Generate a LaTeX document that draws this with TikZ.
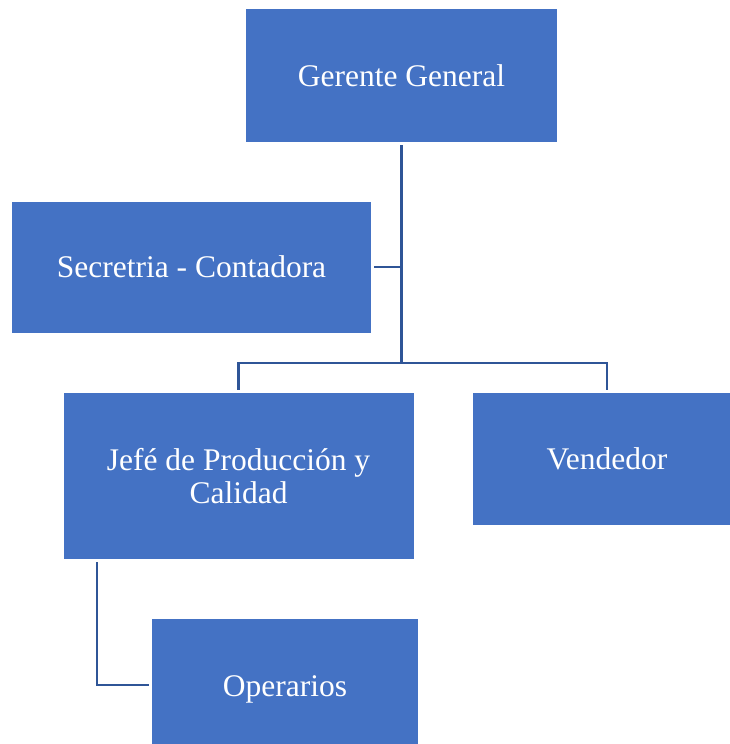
\documentclass[tikz,border=0pt]{standalone}
\usepackage{fontspec}
\setmainfont{Liberation Serif}
\definecolor{boxblue}{HTML}{4472C4}
\definecolor{lineblue}{HTML}{2F5597}
\begin{document}
\begin{tikzpicture}[x=1pt,y=-1pt,
  orgbox/.style={rectangle, fill=boxblue, draw=none, text=white, align=center,
    font=\fontsize{31.5}{33}\selectfont, inner sep=0pt},
  link/.style={draw=lineblue, line width=2.8pt, shorten <=3pt, shorten >=3pt}]
\useasboundingbox (0,0) rectangle (729,744);
\node[orgbox, minimum width=311pt, minimum height=133pt] (gg) at (401.5,75.5) {Gerente General};
\node[orgbox, minimum width=359pt, minimum height=131pt] (sc) at (191.5,267) {Secretria - Contadora};
\node[orgbox, minimum width=350pt, minimum height=166pt] (jp) at (238.5,476) {Jefé de Producción y\\Calidad};
\node[orgbox, minimum width=268pt, minimum height=132pt] (vd) at (607,459) {Vendedor};
\node[orgbox, minimum width=266pt, minimum height=140pt] (op) at (285,689) {Operarios};
\coordinate (hub) at (gg.south |- 0,363);
\coordinate (sj) at (gg.south |- sc.east);
\coordinate (lj) at (jp.north |- hub);
\coordinate (rj) at (vd.north |- hub);
\coordinate (jb) at (97,559);
\coordinate (jc) at (97,685);
\draw[link, shorten >=0pt] (gg.south) -- (hub);
\draw[link, shorten <=0pt] (sj) -- (sc.east);
\draw[link, shorten <=0pt] (hub) -- (lj) -- (jp.north);
\draw[link, shorten <=0pt] (hub) -- (rj) -- (vd.north);
\draw[link] (jb) -- (jc) -- (op.west |- jc);
\end{tikzpicture}
\end{document}
